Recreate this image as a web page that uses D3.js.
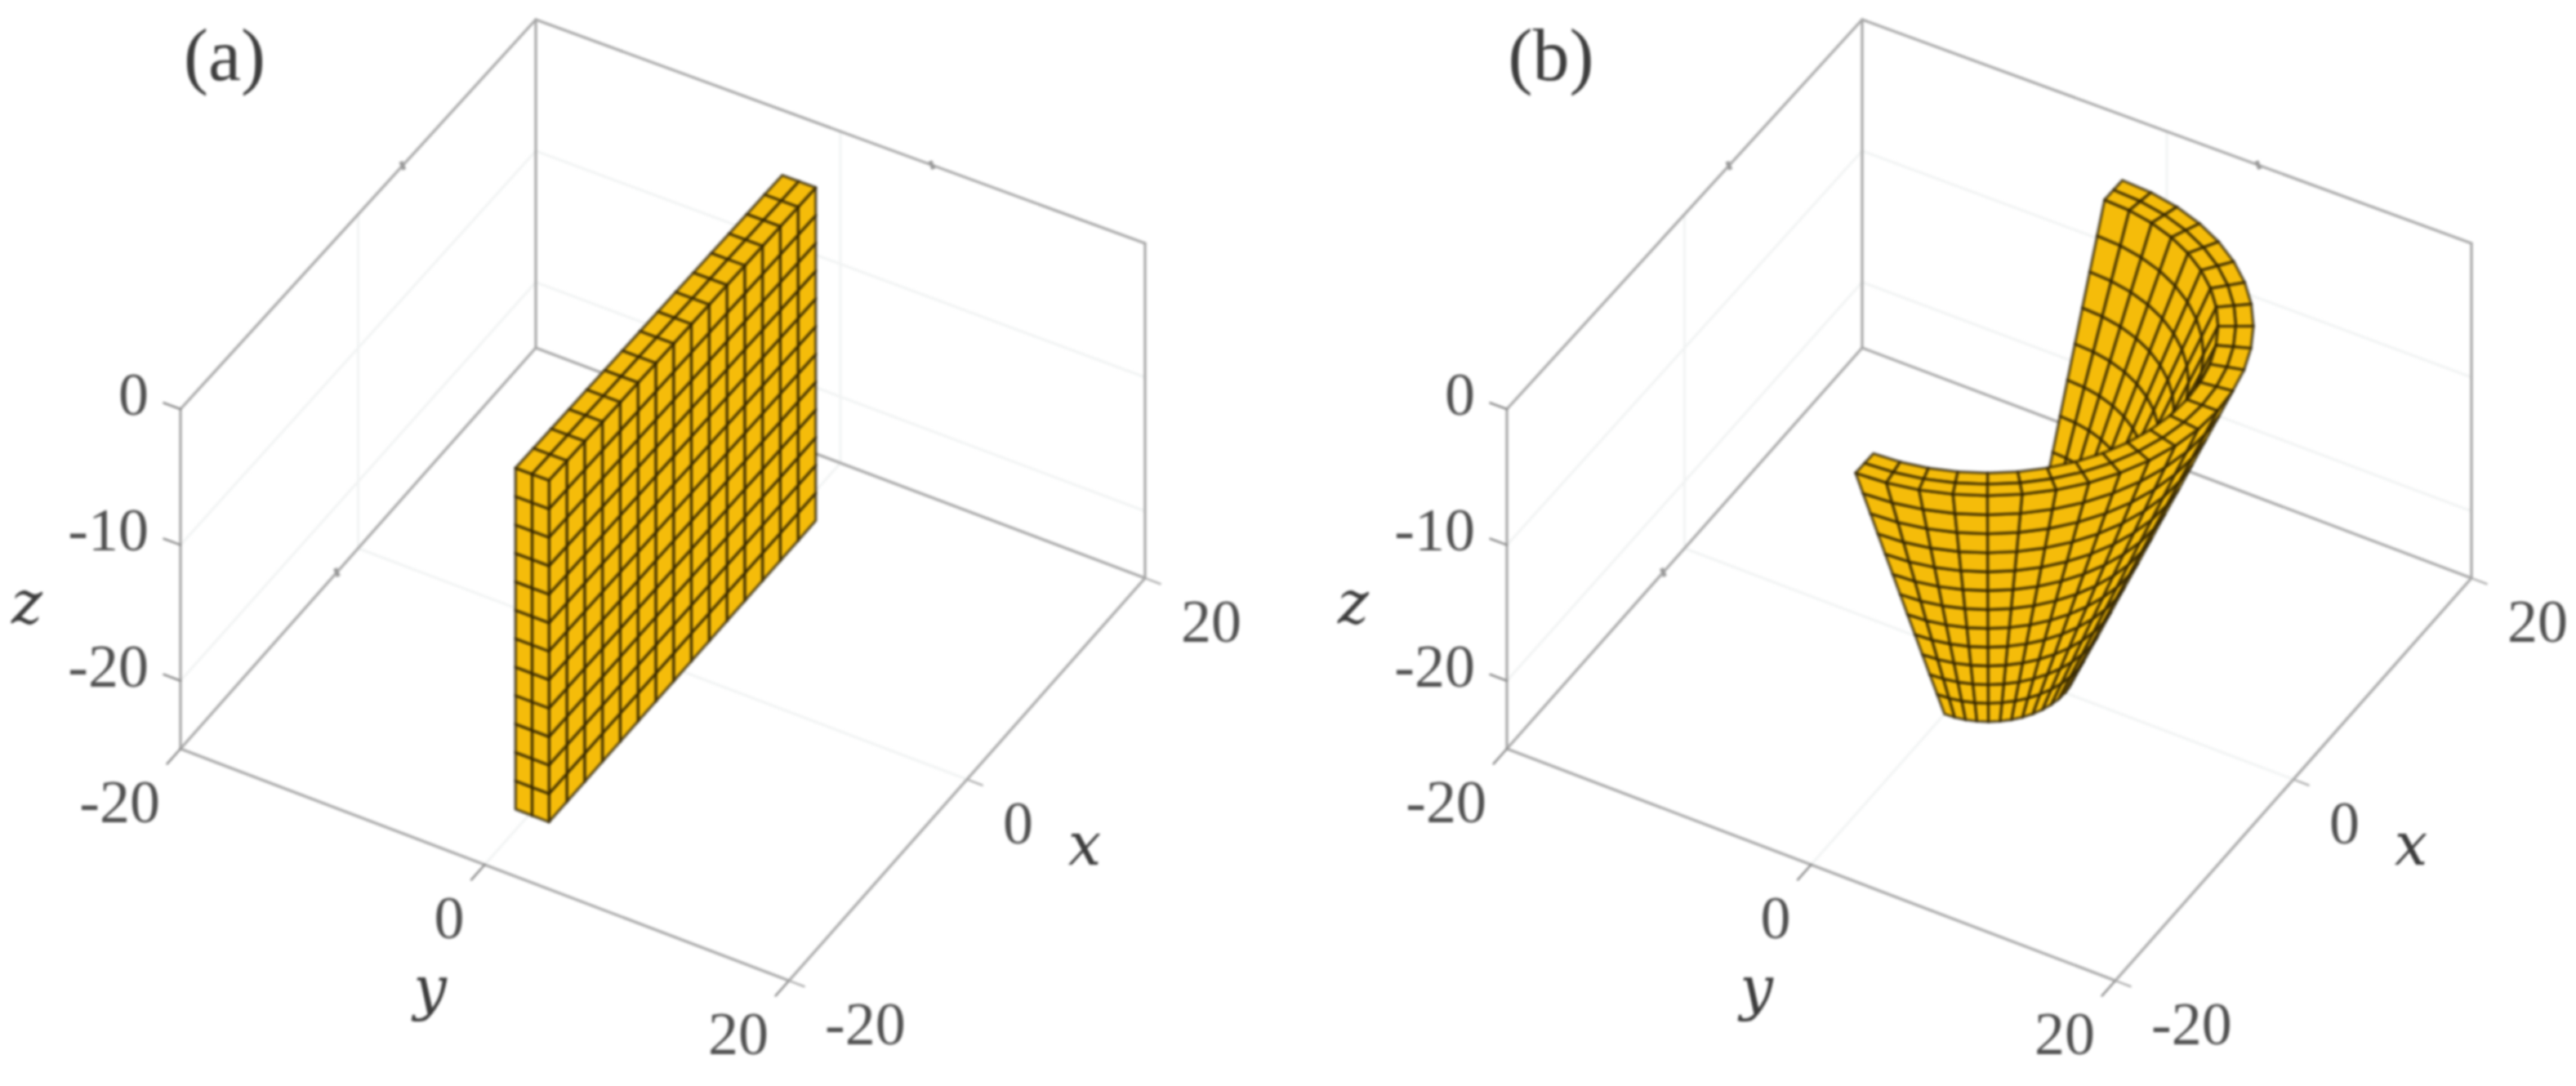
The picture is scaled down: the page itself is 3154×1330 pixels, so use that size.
<!DOCTYPE html>
<html><head><meta charset="utf-8">
<script src="https://cdn.jsdelivr.net/npm/d3@7"></script>
<style>
html,body{margin:0;padding:0;background:#fff;overflow:hidden}
svg{display:block;filter:blur(1.6px)}
</style></head><body>
<svg id="c" width="3154" height="1330"></svg>
<script>
// ---- chart content ----
const panelNames = ["(a)", "(b)"];
const xTicks = [-20, 0, 20];
const yTicks = [-20, 0, 20];
const zTicks = [0, -10, -20];
const axisLimits = {x: [-20, 20], y: [-20, 20], z: [-25, 0]};

// flat plate of panel (a)
const plateX = [-15,-13,-11,-9,-7,-5,-3,-1,1,3,5,7,9,11,13,15];
const plateY = [1.3, 0.2, -0.9];
const meshZ = [0,-2.083,-4.167,-6.25,-8.333,-10.417,-12.5,-14.583,-16.667,-18.75,-20.833,-22.917,-25];

// bent shell of panel (b): a cone sector read from the rim and the base
const bendAngle = [0,7.5,15,22.5,30,37.5,45,52.5,60,67.5,75,82.5,90,97.5,105,112.5,120,127.5,135,142.5,150,157.5,165,172.5,180];
const outerRadius = [15,14.17,13.33,12.5,11.67,10.83,10,9.17,8.33,7.5,6.67,5.83,5];
const wallOffset = [0, 1, 2];

// small marks left on the back edges of the box
const edgeMarks = [[5,-20,0],[20,6,0],[-2.4,-20,-25]];

// ---- view: box corners in page pixels ----
const floorCorner = {lf:[221,917], lb:[656,426], rf:[966,1201], rb:[1402,708]};
const lift = {lf:416, lb:402, rf:424, rb:410};
const panelShift = [0, 1624];
const view = {x:-0.647, y:0.38, z:0.659};

const sx = d3.scaleLinear().domain(axisLimits.x).range([0,1]);
const sy = d3.scaleLinear().domain(axisLimits.y).range([0,1]);
const sz = d3.scaleLinear().domain(axisLimits.z).range([0,1]);

function projector(dx){
  return (x,y,z)=>{
    const a=sx(x), b=sy(y), c=sz(z);
    const mix=(lf,lb,rf,rb)=>(1-a)*(1-b)*lf + a*(1-b)*lb + (1-a)*b*rf + a*b*rb;
    const C=floorCorner;
    const px=mix(C.lf[0],C.lb[0],C.rf[0],C.rb[0]);
    const py=mix(C.lf[1],C.lb[1],C.rf[1],C.rb[1]);
    return [px+dx, py-c*mix(lift.lf,lift.lb,lift.rf,lift.rb)];
  };
}

const svg=d3.select("#c");
const lineGen=d3.line();
const TICK="#4f4f4f", DARK="#3c3c3c";
const SERIF="'Liberation Serif',serif", MATH="'DejaVu Serif',serif";

function seg(g,P,a,b,color,w){
  g.append("path").attr("d",lineGen([P(...a),P(...b)])).attr("fill","none")
   .attr("stroke",color).attr("stroke-width",w).attr("stroke-linecap","round");
}

function drawBox(g,P){
  const [x0,x1]=axisLimits.x,[y0,y1]=axisLimits.y,[z0,z1]=axisLimits.z;
  const GRID="#f1f3f3";
  // grid lines
  xTicks.filter(v=>v!==x0&&v!==x1).forEach(v=>{
    seg(g,P,[v,y0,z0],[v,y1,z0],GRID,3);
    seg(g,P,[v,y0,z0],[v,y0,z1],GRID,3);
  });
  yTicks.filter(v=>v!==y0&&v!==y1).forEach(v=>{
    seg(g,P,[x0,v,z0],[x1,v,z0],GRID,3);
    seg(g,P,[x1,v,z0],[x1,v,z1],GRID,3);
  });
  zTicks.filter(v=>v!==z1).forEach(v=>{
    seg(g,P,[x0,y0,v],[x1,y0,v],GRID,3);
    seg(g,P,[x1,y0,v],[x1,y1,v],GRID,3);
  });
  // box edges
  const E="#a6a6a6";
  [[[x0,y0,z0],[x0,y0,z1]],[[x1,y0,z0],[x1,y0,z1]],[[x1,y1,z0],[x1,y1,z1]],
   [[x0,y0,z1],[x1,y0,z1]],[[x1,y0,z1],[x1,y1,z1]],
   [[x0,y0,z0],[x1,y0,z0]],[[x1,y0,z0],[x1,y1,z0]],
   [[x0,y0,z0],[x0,y1,z0]],[[x0,y1,z0],[x1,y1,z0]]].forEach(s=>seg(g,P,s[0],s[1],E,3.2));
  // axis ticks
  const T="#8a8a8a";
  zTicks.forEach(v=>seg(g,P,[x0,y0,v],[x0,y0-1.1,v],T,2.6));
  yTicks.forEach(v=>seg(g,P,[x0,v,z0],[x0-1.5,v,z0],T,2.6));
  xTicks.forEach(v=>seg(g,P,[v,y1,z0],[v,y1+1,z0],"#a8a8a8",2.4));
  edgeMarks.forEach(m=>{
    const p=P(...m);
    g.append("path").attr("d",lineGen([[p[0]-2,p[1]-5],[p[0]+2,p[1]+5]]))
     .attr("stroke","#999").attr("stroke-width",5).attr("fill","none");
  });
}

function drawLabels(g,P,name,dx){
  const [x0]=axisLimits.x,[y0,y1]=axisLimits.y,[z0]=axisLimits.z;
  const txt=(px,py,s,anchor,size,font,style,fill)=>g.append("text")
    .attr("x",px).attr("y",py).attr("text-anchor",anchor).attr("font-family",font)
    .attr("font-size",size).attr("font-style",style).attr("fill",fill).text(s);
  zTicks.forEach(v=>{const p=P(x0,y0,v);txt(p[0]-39,p[1]+7,v,"end",74,SERIF,"normal",TICK);});
  yTicks.forEach(v=>{const p=P(x0,v,z0);txt(p[0]-25,p[1]+90,v,"end",74,SERIF,"normal",TICK);});
  xTicks.forEach(v=>{const p=P(v,y1,z0);txt(p[0]+44,p[1]+78,v,"start",74,SERIF,"normal",TICK);});
  const px0=P(0,y1,z0), py0=P(x0,0,z0), pz0=P(x0,y0,-10);
  txt(px0[0]+144,px0[1]+104,"x","middle",72,MATH,"italic",DARK);
  txt(py0[0]-67,py0[1]+176,"y","middle",72,MATH,"italic",DARK);
  txt(pz0[0]-188,pz0[1]+96,"z","middle",72,MATH,"italic",DARK);
  txt(275+dx,98,name,"middle",90,SERIF,"normal",DARK);
}

// Build the quads of a meshed solid; keep those facing the viewer; paint back to front
function solidQuads(map,ni,nj,nk){
  const out=[];
  const push=(corners,sign)=>out.push({corners,sign});
  for(let i=0;i<ni;i++)for(let j=0;j<nj;j++){
    push([map(i,j,0),map(i+1,j,0),map(i+1,j+1,0),map(i,j+1,0)],1);
    push([map(i,j,nk),map(i+1,j,nk),map(i+1,j+1,nk),map(i,j+1,nk)],-1);
  }
  for(let i=0;i<ni;i++)for(let k=0;k<nk;k++)
    push([map(i,0,k),map(i+1,0,k),map(i+1,0,k+1),map(i,0,k+1)],0);
  for(let k=0;k<nk;k++)for(let j=0;j<nj;j++){
    push([map(0,j,k),map(0,j,k+1),map(0,j+1,k+1),map(0,j+1,k)],-1);
    push([map(ni,j,k),map(ni,j,k+1),map(ni,j+1,k+1),map(ni,j+1,k)],1);
  }
  return out;
}
function drawSolid(g,P,quads){
  const vis=quads.map(q=>{
    const pts=q.corners.map(c=>P(...c));
    const area=-d3.polygonArea(pts);
    const depth=d3.mean(q.corners,c=>view.x*c[0]+view.y*c[1]+view.z*c[2]);
    return {pts,area,depth,sign:q.sign};
  }).filter(q=>q.sign===0||q.area*q.sign>0).sort((a,b)=>a.depth-b.depth);
  g.selectAll("path.cell").data(vis).join("path").attr("class","cell")
    .attr("d",d=>lineGen(d.pts)+"Z")
    .attr("fill","#f5bc0a").attr("stroke","#1e1500").attr("stroke-opacity",0.7)
    .attr("stroke-width",3.4).attr("stroke-linejoin","round");
}

const flatMap=(i,j,k)=>[plateX[i],plateY[k],meshZ[j]];
const bentMap=(i,j,k)=>{
  const t=bendAngle[i]*Math.PI/180, r=outerRadius[j]-wallOffset[k];
  return [-r*Math.cos(t), r*Math.sin(t), meshZ[j]];
};
const solids=[
  solidQuads(flatMap,plateX.length-1,meshZ.length-1,plateY.length-1),
  solidQuads(bentMap,bendAngle.length-1,meshZ.length-1,wallOffset.length-1)
];

panelNames.forEach((name,idx)=>{
  const dx=panelShift[idx], P=projector(dx), g=svg.append("g");
  drawBox(g,P);
  drawSolid(g.append("g"),P,solids[idx]);
  drawLabels(g,P,name,dx);
});
</script>
</body></html>
